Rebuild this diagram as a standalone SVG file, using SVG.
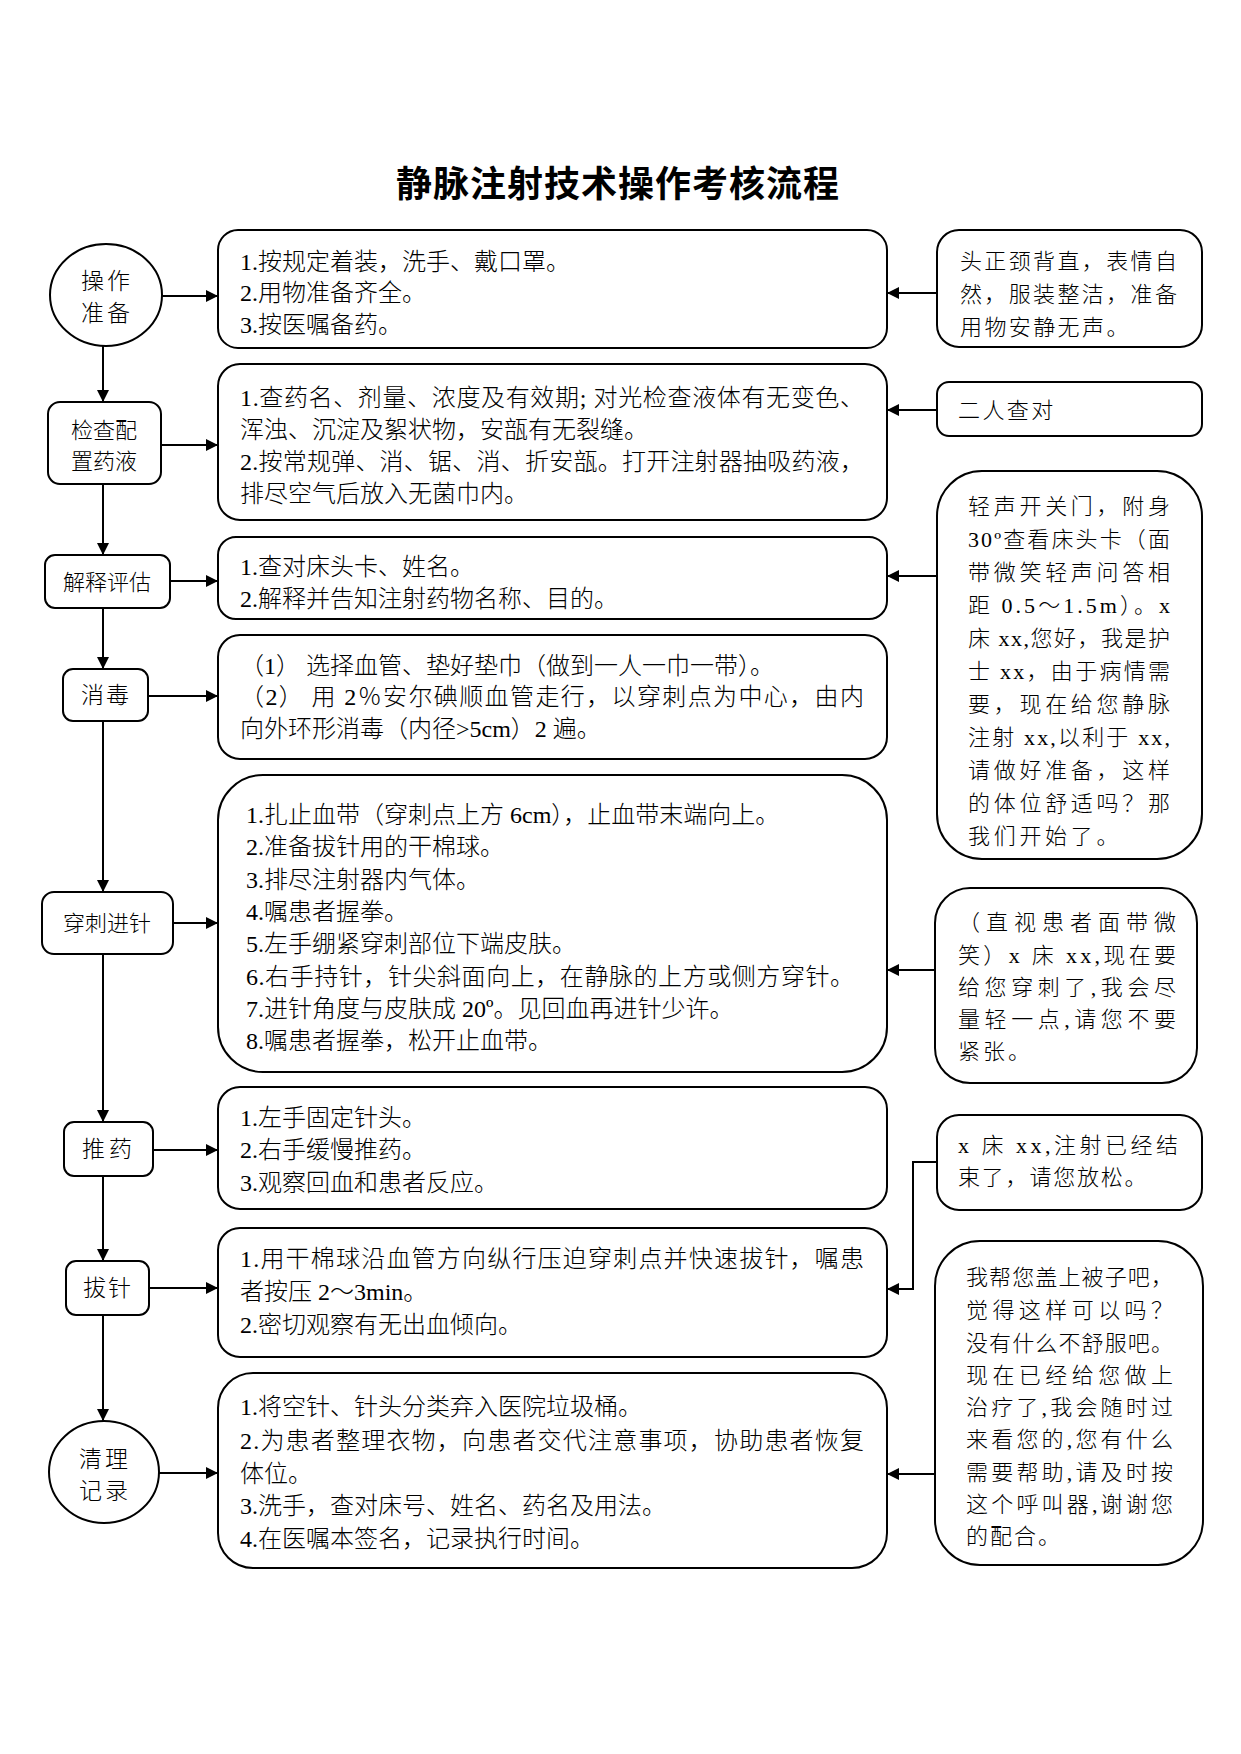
<svg xmlns="http://www.w3.org/2000/svg" width="1241" height="1754" viewBox="0 0 1241 1754">
<style>
.bg{fill:#fff}
.box{fill:#fff;stroke:#000;stroke-width:2}
.c{fill:none;stroke:#000;stroke-width:2}
.t{font-family:"Liberation Serif","Noto Sans CJK SC",serif;font-size:24px;font-weight:300;fill:#000}
.r{font-family:"Liberation Serif","Noto Sans CJK SC",serif;font-size:22px;font-weight:300;fill:#000}
.n{font-family:"Liberation Serif","Noto Sans CJK SC",serif;font-size:22px;font-weight:300;fill:#000;text-anchor:middle}
.title{font-family:"Noto Sans CJK SC",sans-serif;font-size:36px;font-weight:bold;fill:#000;text-anchor:middle;letter-spacing:1px}
</style>
<defs>
<marker id="ah" markerUnits="userSpaceOnUse" markerWidth="13" markerHeight="12" refX="12" refY="6" orient="auto">
<path d="M0,0 L12,6 L0,12 z" fill="#000"/>
</marker>
</defs>
<rect class="bg" x="0" y="0" width="1241" height="1754"/>
<text class="title" x="618" y="197">静脉注射技术操作考核流程</text>

<g id="connectors">
<line class="c" x1="103" y1="346" x2="103" y2="402" marker-end="url(#ah)"/>
<line class="c" x1="103" y1="484" x2="103" y2="555" marker-end="url(#ah)"/>
<line class="c" x1="103" y1="608" x2="103" y2="669" marker-end="url(#ah)"/>
<line class="c" x1="103" y1="721" x2="103" y2="892" marker-end="url(#ah)"/>
<line class="c" x1="103" y1="954" x2="103" y2="1122" marker-end="url(#ah)"/>
<line class="c" x1="103" y1="1176" x2="103" y2="1261" marker-end="url(#ah)"/>
<line class="c" x1="103" y1="1315" x2="103" y2="1421" marker-end="url(#ah)"/>
<line class="c" x1="162" y1="296" x2="218" y2="296" marker-end="url(#ah)"/>
<line class="c" x1="161" y1="445" x2="218" y2="445" marker-end="url(#ah)"/>
<line class="c" x1="170" y1="581" x2="218" y2="581" marker-end="url(#ah)"/>
<line class="c" x1="148" y1="696" x2="218" y2="696" marker-end="url(#ah)"/>
<line class="c" x1="173" y1="923" x2="218" y2="923" marker-end="url(#ah)"/>
<line class="c" x1="153" y1="1150" x2="218" y2="1150" marker-end="url(#ah)"/>
<line class="c" x1="149" y1="1288" x2="218" y2="1288" marker-end="url(#ah)"/>
<line class="c" x1="159" y1="1473" x2="218" y2="1473" marker-end="url(#ah)"/>
<line class="c" x1="937" y1="293" x2="887" y2="293" marker-end="url(#ah)"/>
<line class="c" x1="937" y1="410" x2="887" y2="410" marker-end="url(#ah)"/>
<line class="c" x1="937" y1="576" x2="887" y2="576" marker-end="url(#ah)"/>
<line class="c" x1="935" y1="970" x2="887" y2="970" marker-end="url(#ah)"/>
<polyline class="c" points="937,1162 913,1162 913,1289 887,1289" marker-end="url(#ah)"/>
<line class="c" x1="935" y1="1474" x2="887" y2="1474" marker-end="url(#ah)"/>
</g>

<g id="n1"><ellipse class="box" cx="106" cy="295" rx="56" ry="51"/>
<text class="n" x="107" y="289" style="font-size:23px;letter-spacing:3px">操作</text>
<text class="n" x="107" y="321" style="font-size:23px;letter-spacing:3px">准备</text></g>
<g id="n2"><rect class="box" x="48" y="402" width="113" height="82" rx="12"/>
<text class="n" x="104" y="438">检查配</text><text class="n" x="104" y="469">置药液</text></g>
<g id="n3"><rect class="box" x="45" y="555" width="125" height="53" rx="10"/>
<text class="n" x="107" y="590">解释评估</text></g>
<g id="n4"><rect class="box" x="63" y="669" width="85" height="52" rx="10"/>
<text class="n" x="106" y="703" style="font-size:23px;letter-spacing:2px">消毒</text></g>
<g id="n5"><rect class="box" x="42" y="892" width="131" height="62" rx="12"/>
<text class="n" x="107" y="931">穿刺进针</text></g>
<g id="n6"><rect class="box" x="64" y="1122" width="89" height="54" rx="10"/>
<text class="n" x="109" y="1157" style="font-size:23px;letter-spacing:4px">推药</text></g>
<g id="n7"><rect class="box" x="66" y="1261" width="83" height="54" rx="10"/>
<text class="n" x="108" y="1296" style="font-size:23px;letter-spacing:2px">拔针</text></g>
<g id="n8"><ellipse class="box" cx="104" cy="1472" rx="55" ry="51"/>
<text class="n" x="105" y="1467" style="font-size:23px;letter-spacing:3px">清理</text>
<text class="n" x="105" y="1499" style="font-size:23px;letter-spacing:3px">记录</text></g>

<g id="a1"><rect class="box" x="218" y="230" width="669" height="118" rx="20"/>
<text class="t" x="240" y="270">1.按规定着装，洗手、戴口罩。</text>
<text class="t" x="240" y="301">2.用物准备齐全。</text>
<text class="t" x="240" y="333">3.按医嘱备药。</text></g>
<g id="a2"><rect class="box" x="218" y="364" width="669" height="156" rx="22"/>
<text class="t" x="240" y="406" textLength="624" lengthAdjust="spacing">1.查药名、剂量、浓度及有效期; 对光检查液体有无变色、</text>
<text class="t" x="240" y="438">浑浊、沉淀及絮状物，安瓿有无裂缝。</text>
<text class="t" x="240" y="470" textLength="624" lengthAdjust="spacing">2.按常规弹、消、锯、消、折安瓿。打开注射器抽吸药液，</text>
<text class="t" x="240" y="502">排尽空气后放入无菌巾内。</text></g>
<g id="a3"><rect class="box" x="218" y="537" width="669" height="82" rx="18"/>
<text class="t" x="240" y="575">1.查对床头卡、姓名。</text>
<text class="t" x="240" y="607">2.解释并告知注射药物名称、目的。</text></g>
<g id="a4"><rect class="box" x="218" y="635" width="669" height="124" rx="22"/>
<text class="t" x="240" y="674">（1） 选择血管、垫好垫巾（做到一人一巾一带）。</text>
<text class="t" x="240" y="705" textLength="624" lengthAdjust="spacing">（2） 用 2％安尔碘顺血管走行，以穿刺点为中心，由内</text>
<text class="t" x="240" y="737">向外环形消毒（内径&gt;5cm）2 遍。</text></g>
<g id="a5"><rect class="box" x="218" y="775" width="669" height="297" rx="45"/>
<text class="t" x="246" y="823">1.扎止血带（穿刺点上方 6cm），止血带末端向上。</text>
<text class="t" x="246" y="855">2.准备拔针用的干棉球。</text>
<text class="t" x="246" y="888">3.排尽注射器内气体。</text>
<text class="t" x="246" y="920">4.嘱患者握拳。</text>
<text class="t" x="246" y="952">5.左手绷紧穿刺部位下端皮肤。</text>
<text class="t" x="246" y="985" textLength="608" lengthAdjust="spacing">6.右手持针，针尖斜面向上，在静脉的上方或侧方穿针。</text>
<text class="t" x="246" y="1017">7.进针角度与皮肤成 20º。见回血再进针少许。</text>
<text class="t" x="246" y="1049">8.嘱患者握拳，松开止血带。</text></g>
<g id="a6"><rect class="box" x="218" y="1087" width="669" height="122" rx="22"/>
<text class="t" x="240" y="1126">1.左手固定针头。</text>
<text class="t" x="240" y="1158">2.右手缓慢推药。</text>
<text class="t" x="240" y="1191">3.观察回血和患者反应。</text></g>
<g id="a7"><rect class="box" x="218" y="1228" width="669" height="129" rx="22"/>
<text class="t" x="240" y="1267" textLength="624" lengthAdjust="spacing">1.用干棉球沿血管方向纵行压迫穿刺点并快速拔针，嘱患</text>
<text class="t" x="240" y="1300">者按压 2～3min。</text>
<text class="t" x="240" y="1333">2.密切观察有无出血倾向。</text></g>
<g id="a8"><rect class="box" x="218" y="1373" width="669" height="195" rx="35"/>
<text class="t" x="240" y="1415">1.将空针、针头分类弃入医院垃圾桶。</text>
<text class="t" x="240" y="1449" textLength="624" lengthAdjust="spacing">2.为患者整理衣物，向患者交代注意事项，协助患者恢复</text>
<text class="t" x="240" y="1482">体位。</text>
<text class="t" x="240" y="1514">3.洗手，查对床号、姓名、药名及用法。</text>
<text class="t" x="240" y="1547">4.在医嘱本签名，记录执行时间。</text></g>

<g id="r1"><rect class="box" x="937" y="230" width="265" height="117" rx="22"/>
<text class="r" x="960" y="269" textLength="217" lengthAdjust="spacing">头正颈背直，表情自</text>
<text class="r" x="960" y="302" textLength="217" lengthAdjust="spacing">然，服装整洁，准备</text>
<text class="r" x="960" y="335" style="letter-spacing:2.4px">用物安静无声。</text></g>
<g id="r2"><rect class="box" x="937" y="382" width="265" height="54" rx="12"/>
<text class="r" x="958" y="418" style="letter-spacing:2.4px">二人查对</text></g>
<g id="r3"><rect class="box" x="937" y="471" width="265" height="388" rx="45"/>
<text class="r" x="968" y="514" textLength="202" lengthAdjust="spacing">轻声开关门，附身</text>
<text class="r" x="968" y="547" textLength="202" lengthAdjust="spacing">30º查看床头卡（面</text>
<text class="r" x="968" y="580" textLength="202" lengthAdjust="spacing">带微笑轻声问答相</text>
<text class="r" x="968" y="613" textLength="202" lengthAdjust="spacing">距 0.5～1.5m）。x</text>
<text class="r" x="968" y="646" textLength="202" lengthAdjust="spacing">床 xx,您好，我是护</text>
<text class="r" x="968" y="679" textLength="202" lengthAdjust="spacing">士 xx，由于病情需</text>
<text class="r" x="968" y="712" textLength="202" lengthAdjust="spacing">要，现在给您静脉</text>
<text class="r" x="968" y="745" textLength="202" lengthAdjust="spacing">注射 xx,以利于 xx,</text>
<text class="r" x="968" y="778" textLength="202" lengthAdjust="spacing">请做好准备，这样</text>
<text class="r" x="968" y="811" textLength="202" lengthAdjust="spacing">的体位舒适吗？那</text>
<text class="r" x="968" y="844" style="letter-spacing:3.7px">我们开始了。</text></g>
<g id="r4"><rect class="box" x="935" y="888" width="262" height="195" rx="35"/>
<text class="r" x="958" y="930" textLength="218" lengthAdjust="spacing">（直视患者面带微</text>
<text class="r" x="958" y="963" textLength="218" lengthAdjust="spacing">笑）x 床 xx,现在要</text>
<text class="r" x="958" y="995" textLength="218" lengthAdjust="spacing">给您穿刺了,我会尽</text>
<text class="r" x="958" y="1027" textLength="218" lengthAdjust="spacing">量轻一点,请您不要</text>
<text class="r" x="958" y="1059" style="letter-spacing:3px">紧张。</text></g>
<g id="r5"><rect class="box" x="937" y="1115" width="265" height="95" rx="22"/>
<text class="r" x="958" y="1153" textLength="220" lengthAdjust="spacing">x 床 xx,注射已经结</text>
<text class="r" x="958" y="1185" style="letter-spacing:1.8px">束了，请您放松。</text></g>
<g id="r6"><rect class="box" x="935" y="1241" width="268" height="324" rx="45"/>
<text class="r" x="966" y="1285" textLength="207" lengthAdjust="spacing">我帮您盖上被子吧，</text>
<text class="r" x="966" y="1318" textLength="207" lengthAdjust="spacing">觉得这样可以吗？</text>
<text class="r" x="966" y="1351" textLength="207" lengthAdjust="spacing">没有什么不舒服吧。</text>
<text class="r" x="966" y="1383" textLength="207" lengthAdjust="spacing">现在已经给您做上</text>
<text class="r" x="966" y="1415" textLength="207" lengthAdjust="spacing">治疗了,我会随时过</text>
<text class="r" x="966" y="1447" textLength="207" lengthAdjust="spacing">来看您的,您有什么</text>
<text class="r" x="966" y="1480" textLength="207" lengthAdjust="spacing">需要帮助,请及时按</text>
<text class="r" x="966" y="1512" textLength="207" lengthAdjust="spacing">这个呼叫器,谢谢您</text>
<text class="r" x="966" y="1544" style="letter-spacing:2px">的配合。</text></g>
</svg>
